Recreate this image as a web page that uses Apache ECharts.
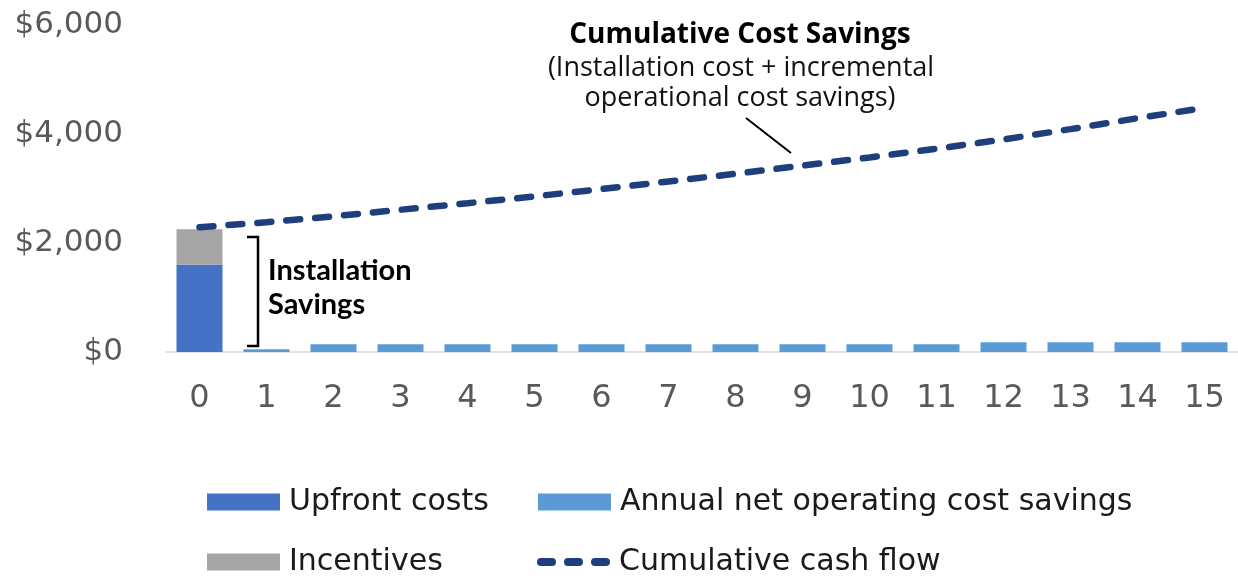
<!DOCTYPE html>
<html>
<head>
<meta charset="utf-8">
<script src="https://cdn.jsdelivr.net/npm/echarts@6/dist/echarts.min.js"></script>
<style>
  html, body { margin: 0; padding: 0; background: #fff; }
</style>
</head>
<body>
<div id="chart" style="width:1238px;height:583px"></div>
<script>
  // data
  var years = ['0', '1', '2', '3', '4', '5', '6', '7', '8', '9', '10', '11', '12', '13', '14', '15'];
  var upfrontCosts = [1600, null, null, null, null, null, null, null, null, null, null, null, null, null, null, null];
  var incentives = [650, null, null, null, null, null, null, null, null, null, null, null, null, null, null, null];
  var annualSavings = [null, 50, 140, 140, 140, 140, 140, 140, 140, 140, 140, 140, 180, 180, 180, 180];
  var cumulativeCashFlow = [2290, 2380, 2490, 2610, 2730, 2855, 2990, 3130, 3270, 3420, 3570, 3730, 3900, 4090, 4290, 4480];
  var yMin = 0, yMax = 6000, yStep = 2000;

  var gray = '#595959';
  var navy = '#1F3E7C';
  var legendText = { fontSize: 30, fontFamily: 'DejaVu Sans', color: '#1a1a1a', padding: [0, 0, 0, 4] };
  // three rounded dashes for the line legend
  var dashIcon = 'path://M4,0h11a4,4 0 0 1 0,8h-11a4,4 0 0 1 0,-8z' +
    'M31,0h11a4,4 0 0 1 0,8h-11a4,4 0 0 1 0,-8z' +
    'M58,0h11a4,4 0 0 1 0,8h-11a4,4 0 0 1 0,-8z';

  function money (v) {
    return '$' + v.toLocaleString('en-US');
  }

  function legendAt (name, left, top, icon, h) {
    return {
      data: [{ name: name, icon: icon }],
      left: left,
      top: top,
      padding: 0,
      itemWidth: 73,
      itemHeight: h,
      selectedMode: false,
      textStyle: legendText
    };
  }

  var myChart = echarts.init(document.getElementById('chart'));
  var option = {
    animation: false,
    grid: { left: 166, right: -6, top: 25, bottom: 231, containLabel: false },
    legend: [
      legendAt('Upfront costs', 207, 487, 'rect', 17),
      legendAt('Annual net operating cost savings', 538, 487, 'rect', 17),
      legendAt('Incentives', 207, 547, 'rect', 17),
      legendAt('Cumulative cash flow', 537, 547, dashIcon, 8)
    ],
    xAxis: {
      type: 'category',
      data: years,
      axisLine: { lineStyle: { color: '#D9D9D9', width: 1.5 } },
      axisTick: { show: false },
      axisLabel: { color: gray, fontSize: 32, fontFamily: 'DejaVu Sans', margin: 31 }
    },
    yAxis: {
      type: 'value',
      min: yMin,
      max: yMax,
      interval: yStep,
      axisLine: { show: false },
      axisTick: { show: false },
      splitLine: { show: false },
      axisLabel: {
        color: gray,
        fontSize: 31,
        fontFamily: 'DejaVu Sans',
        margin: 43,
        formatter: money
      }
    },
    series: [
      {
        name: 'Upfront costs',
        type: 'bar',
        stack: 'cost',
        barWidth: 46,
        data: upfrontCosts,
        itemStyle: { color: '#4472C4' }
      },
      {
        name: 'Incentives',
        type: 'bar',
        stack: 'cost',
        barWidth: 46,
        data: incentives,
        itemStyle: { color: '#A5A5A5' }
      },
      {
        name: 'Annual net operating cost savings',
        type: 'bar',
        stack: 'cost',
        barWidth: 46,
        data: annualSavings,
        itemStyle: { color: '#5B9BD5' }
      },
      {
        name: 'Cumulative cash flow',
        type: 'line',
        data: cumulativeCashFlow,
        symbol: 'none',
        z: 5,
        itemStyle: { color: navy },
        lineStyle: { color: navy, width: 6.5, type: [14, 15], cap: 'round' }
      }
    ],
    graphic: [
      {
        type: 'text', x: 740, y: 35,
        style: { text: 'Cumulative Cost Savings', font: 'bold 28px "Open Sans"', fill: '#000', textAlign: 'center', textVerticalAlign: 'middle', align: 'center', verticalAlign: 'middle' }
      },
      {
        type: 'text', x: 741, y: 68,
        style: { text: '(Installation cost + incremental', font: '27px "Open Sans"', fill: '#111', textAlign: 'center', textVerticalAlign: 'middle', align: 'center', verticalAlign: 'middle' }
      },
      {
        type: 'text', x: 740, y: 98,
        style: { text: 'operational cost savings)', font: '27px "Open Sans"', fill: '#111', textAlign: 'center', textVerticalAlign: 'middle', align: 'center', verticalAlign: 'middle' }
      },
      {
        type: 'line',
        shape: { x1: 746, y1: 118, x2: 791, y2: 153 },
        style: { stroke: '#000', lineWidth: 2 }
      },
      {
        type: 'polyline',
        shape: { points: [[247, 237], [258, 237], [258, 346], [247, 346]] },
        style: { stroke: '#000', lineWidth: 2.5, fill: null }
      },
      {
        type: 'text', x: 268, y: 271,
        style: { text: 'Installation', font: 'bold 29px Lato', fill: '#000', textVerticalAlign: 'middle', verticalAlign: 'middle' }
      },
      {
        type: 'text', x: 268, y: 305,
        style: { text: 'Savings', font: 'bold 29px Lato', fill: '#000', textVerticalAlign: 'middle', verticalAlign: 'middle' }
      }
    ]
  };
  myChart.setOption(option);
  window.onresize = function () {
    myChart.resize();
  };
</script>
</body>
</html>
